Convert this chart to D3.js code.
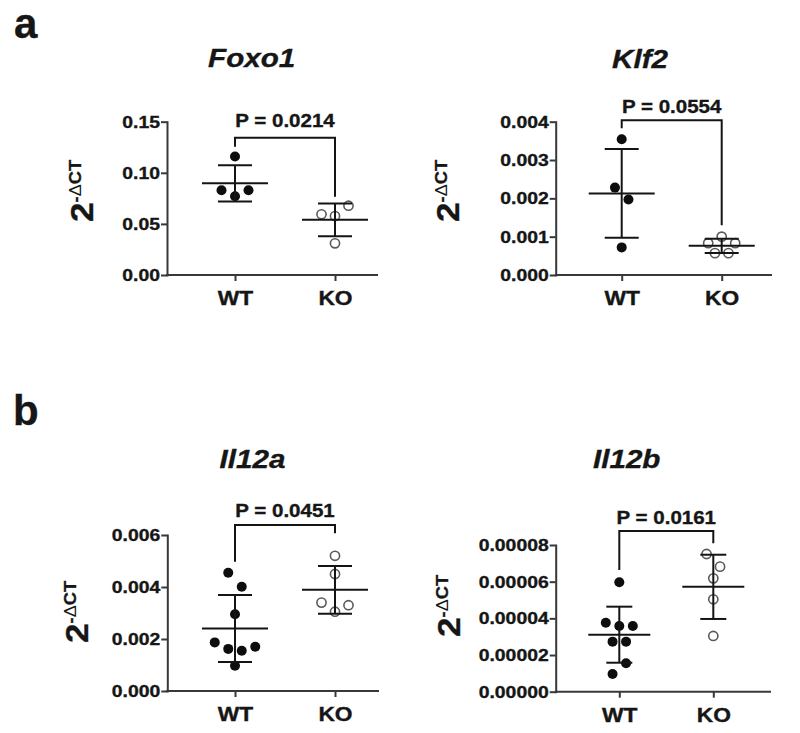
<!DOCTYPE html>
<html><head><meta charset="utf-8">
<script src="https://cdn.jsdelivr.net/npm/d3@7"></script>
<style>body{margin:0;background:#fff} svg{display:block}</style>
</head><body>
<svg id="c" width="800" height="733"></svg>
<script>
// ---------- data ----------
const groups = ["WT", "KO"];
const foxo1WT = [0.116, 0.083, 0.077, 0.083];
const foxo1KO = [0.0594, 0.0577, 0.0678, 0.031];
const klf2WT = [0.00354, 0.00228, 0.00197, 0.00072];
const klf2KO = [0.00083, 0.001, 0.00083, 0.00057, 0.00057];
const il12aWT = [0.00455, 0.00401, 0.00295, 0.00187, 0.00162, 0.00155, 0.0017, 0.00097];
const il12aKO = [0.0052, 0.0045, 0.0034, 0.00305, 0.0033];
const il12bWT = [0.0000597, 0.0000376, 0.0000358, 0.0000358, 0.0000273, 0.0000273, 0.0000097, 0.0000155];
const il12bKO = [0.0000751, 0.0000682, 0.0000618, 0.0000504, 0.0000304];

const foxo1Ticks = [0, 0.05, 0.10, 0.15];
const foxo1TickLabels = ["0.00", "0.05", "0.10", "0.15"];
const klf2Ticks = [0, 0.001, 0.002, 0.003, 0.004];
const klf2TickLabels = ["0.000", "0.001", "0.002", "0.003", "0.004"];
const il12aTicks = [0, 0.002, 0.004, 0.006];
const il12aTickLabels = ["0.000", "0.002", "0.004", "0.006"];
const il12bTicks = [0, 0.00002, 0.00004, 0.00006, 0.00008];
const il12bTickLabels = ["0.00000", "0.00002", "0.00004", "0.00006", "0.00008"];

const geneNames = ["Foxo1", "Klf2", "Il12a", "Il12b"];
const pLabels = ["P = 0.0214", "P = 0.0554", "P = 0.0451", "P = 0.0161"];
// bracket: [top, left leg end, right leg end] in data units
const foxo1Bracket = [0.1343, 0.1255, 0.0766];
const klf2Bracket = [0.00404, 0.00383, 0.0013];
const il12aBracket = [0.00638, 0.00497, 0.00607];
const il12bBracket = [0.0000876, 0.0000664, 0.0000809];
const panelLetters = ["a", "b"];

// ---------- layout ----------
const FONT = "'Liberation Sans', Arial, Helvetica, sans-serif";
const SX = 1.14;
const INK = "#161616";
const AXIS = "#383838";
const TSTROKE = 0.35;

const panels = [
  {name: geneNames[0], wt: foxo1WT, ko: foxo1KO, ticks: foxo1Ticks, labels: foxo1TickLabels, p: pLabels[0], br: foxo1Bracket,
   L: {x0: 167, x1: 377, yb: 275, yt: 121.7, xw: 235, xk: 335, tx: 251.7, ty: 66.7, lx: 93, ly: 191, pg: 11, mh: 33, ch: 17}},
  {name: geneNames[1], wt: klf2WT, ko: klf2KO, ticks: klf2Ticks, labels: klf2TickLabels, p: pLabels[1], br: klf2Bracket,
   L: {x0: 555.7, x1: 771, yb: 275, yt: 121.7, xw: 621.7, xk: 721.7, tx: 640, ty: 68, lx: 459, ly: 191, pg: 7, mh: 33, ch: 17}},
  {name: geneNames[2], wt: il12aWT, ko: il12aKO, ticks: il12aTicks, labels: il12aTickLabels, p: pLabels[2], br: il12aBracket,
   L: {x0: 167.3, x1: 378, yb: 691, yt: 535, xw: 235, xk: 335, tx: 252.5, ty: 468, lx: 88, ly: 612, pg: 8, mh: 33, ch: 17}},
  {name: geneNames[3], wt: il12bWT, ko: il12bKO, ticks: il12bTicks, labels: il12bTickLabels, p: pLabels[3], br: il12bBracket,
   L: {x0: 555.7, x1: 770, yb: 691.7, yt: 545, xw: 619.3, xk: 713.3, tx: 626.7, ty: 468, lx: 460, ly: 606, pg: 7, mh: 31, ch: 13}}
];

const svg = d3.select("#c");

function stext(parent, x, y, str, size, opt = {}) {
  return parent.append("text")
    .attr("transform", `translate(${x},${y}) scale(${opt.sx ?? SX},1)`)
    .attr("text-anchor", opt.anchor || "middle")
    .attr("font-family", FONT)
    .attr("font-size", size)
    .attr("font-weight", opt.weight || "bold")
    .attr("font-style", opt.style || "normal")
    .attr("fill", INK).attr("stroke", INK).attr("stroke-width", TSTROKE)
    .text(str);
}

// row-based dot spreading (GraphPad-like scatter)
function spread(vals, y, T, step) {
  const idx = vals.map((v, i) => i).sort((a, b) => vals[b] - vals[a]);
  const rows = [];
  let cur = null;
  idx.forEach(i => {
    const py = y(vals[i]);
    if (cur && py - cur.start <= T) cur.items.push(i);
    else { cur = {start: py, items: [i]}; rows.push(cur); }
  });
  const off = new Array(vals.length).fill(0);
  rows.forEach(r => {
    const items = r.items.slice().sort((a, b) => a - b);
    const n = items.length;
    items.forEach((i, k) => { off[i] = (k - (n - 1) / 2) * step; });
  });
  return off;
}

// panel letters
stext(svg, 14, 38, panelLetters[0], 42, {anchor: "start", sx: 1});
stext(svg, 13, 425, panelLetters[1], 42, {anchor: "start", sx: 1});

panels.forEach(P => {
  const L = P.L;
  const g = svg.append("g");
  const y = d3.scaleLinear().domain([0, d3.max(P.ticks)]).range([L.yb, L.yt]);
  const x = d3.scalePoint().domain(groups).range([L.xw, L.xk]);

  // title
  stext(g, L.tx, L.ty, P.name, 26, {style: "italic"});

  // y label 2^-ΔCT
  const yl = g.append("text")
    .attr("transform", `translate(${L.lx},${L.ly}) rotate(-90) scale(${SX},1)`)
    .attr("text-anchor", "middle")
    .attr("font-family", FONT).attr("fill", INK).attr("font-weight", "bold")
    .attr("stroke", INK).attr("stroke-width", TSTROKE);
  yl.append("tspan").attr("font-size", 31).text("2");
  yl.append("tspan").attr("font-size", 16).attr("dy", -12).text("-");
  yl.append("tspan").attr("font-size", 16).attr("font-weight", "normal").attr("stroke-width", 0).text("\u0394");
  yl.append("tspan").attr("font-size", 16).text("CT");

  // y axis
  const ya = g.append("g").attr("transform", `translate(${L.x0},0)`)
    .call(d3.axisLeft(y).tickValues(P.ticks).tickFormat((d, i) => P.labels[i]).tickSize(6).tickSizeOuter(0));
  ya.select(".domain").attr("stroke", AXIS).attr("stroke-width", 2).attr("stroke-linecap", "square");
  ya.selectAll(".tick line").attr("stroke", AXIS).attr("stroke-width", 2);
  ya.selectAll(".tick text")
    .attr("x", -7 / SX).attr("transform", `scale(${SX},1)`)
    .attr("font-family", FONT).attr("font-size", 17).attr("font-weight", "bold")
    .attr("fill", INK).attr("stroke", INK).attr("stroke-width", TSTROKE);

  // x axis
  const xa = g.append("g").attr("transform", `translate(0,${L.yb})`)
    .call(d3.axisBottom(x).tickSize(6).tickSizeOuter(0));
  xa.select(".domain").remove();
  xa.selectAll(".tick line").attr("stroke", AXIS).attr("stroke-width", 2);
  xa.selectAll(".tick text")
    .attr("y", 30).attr("dy", 0).attr("transform", `scale(${SX},1)`)
    .attr("font-family", FONT).attr("font-size", 20).attr("font-weight", "bold")
    .attr("fill", INK).attr("stroke", INK).attr("stroke-width", TSTROKE);
  g.append("line").attr("x1", L.x0).attr("x2", L.x1).attr("y1", L.yb).attr("y2", L.yb)
    .attr("stroke", AXIS).attr("stroke-width", 2).attr("stroke-linecap", "square");

  // dots
  const sets = [{k: "WT", v: P.wt, filled: true}, {k: "KO", v: P.ko, filled: false}];
  sets.forEach(s => {
    const off = spread(s.v, y, 14.5, 13.5);
    g.append("g").selectAll("circle").data(s.v).join("circle")
      .attr("cx", (d, i) => x(s.k) + off[i])
      .attr("cy", d => y(d))
      .attr("r", s.filled ? 5 : 4.6)
      .attr("fill", s.filled ? "#0d0d0d" : "#fff")
      .attr("stroke", s.filled ? "none" : "#5a5a5a")
      .attr("stroke-width", 1.6);
  });

  // mean ± SD
  sets.forEach(s => {
    const m = d3.mean(s.v), sd = d3.deviation(s.v), cx = x(s.k);
    const lg = g.append("g").attr("stroke", "#141414").attr("stroke-width", 2);
    lg.append("line").attr("x1", cx - L.mh).attr("x2", cx + L.mh).attr("y1", y(m)).attr("y2", y(m));
    lg.append("line").attr("x1", cx).attr("x2", cx).attr("y1", y(m + sd)).attr("y2", y(m - sd));
    lg.append("line").attr("x1", cx - L.ch).attr("x2", cx + L.ch).attr("y1", y(m + sd)).attr("y2", y(m + sd));
    lg.append("line").attr("x1", cx - L.ch).attr("x2", cx + L.ch).attr("y1", y(m - sd)).attr("y2", y(m - sd));
  });

  // significance bracket
  const [bt, bl, brr] = P.br;
  g.append("path")
    .attr("d", d3.line()([[x("WT"), y(bl)], [x("WT"), y(bt)], [x("KO"), y(bt)], [x("KO"), y(brr)]]))
    .attr("fill", "none").attr("stroke", "#141414").attr("stroke-width", 2);
  stext(g, (x("WT") + x("KO")) / 2, y(bt) - L.pg, P.p, 18);
});
</script>
</body></html>
